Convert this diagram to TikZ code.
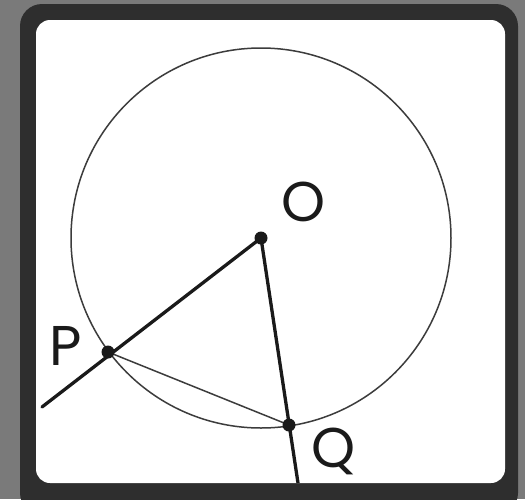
\documentclass[tikz,border=0pt]{standalone}
\usepackage{fontspec}
\setmainfont{Poppins}
\definecolor{bggray}{HTML}{7A7A7A}
\definecolor{framedark}{HTML}{2E2E2E}
\definecolor{inkc}{HTML}{1A1A1A}
\begin{document}
\begin{tikzpicture}[x=1pt,y=-1pt,
  thickline/.style={line width=3.3pt,draw=inkc,line cap=round},
  thinline/.style={line width=1.5pt,draw=inkc!85},
  ptdot/.style={circle,fill=inkc,inner sep=0pt,minimum size=13pt},
  lbl/.style={font=\fontsize{56}{56}\selectfont,text=inkc,inner sep=0pt}]
\fill[bggray] (0,0) rectangle (525,499);
\useasboundingbox (0,0) rectangle (525,499);
\fill[framedark,rounded corners=22pt] (20,4) rectangle (518,515);
\fill[white,rounded corners=14pt] (36,20) rectangle (505,483);
\coordinate (O) at (261,238);
\coordinate (P) at (108,352);
\coordinate (Q) at (289,425);
\coordinate (Pend) at (42,407);
\coordinate (Qend) at (298,483);
\draw[thinline] (O) circle (190);
\draw[thinline] (P) -- (Q);
\draw[thickline] (Pend) -- (O);
\draw[thickline,line cap=butt] (O) -- (Qend);
\node[ptdot] (o) at (O) {};
\node[ptdot] (p) at (P) {};
\node[ptdot] (q) at (Q) {};
\node[lbl] (lo) at (304,202) {O};
\node[lbl] (lp) at (66,346) {P};
\node[lbl] (lq) at (334,451) {Q};
\end{tikzpicture}
\end{document}
